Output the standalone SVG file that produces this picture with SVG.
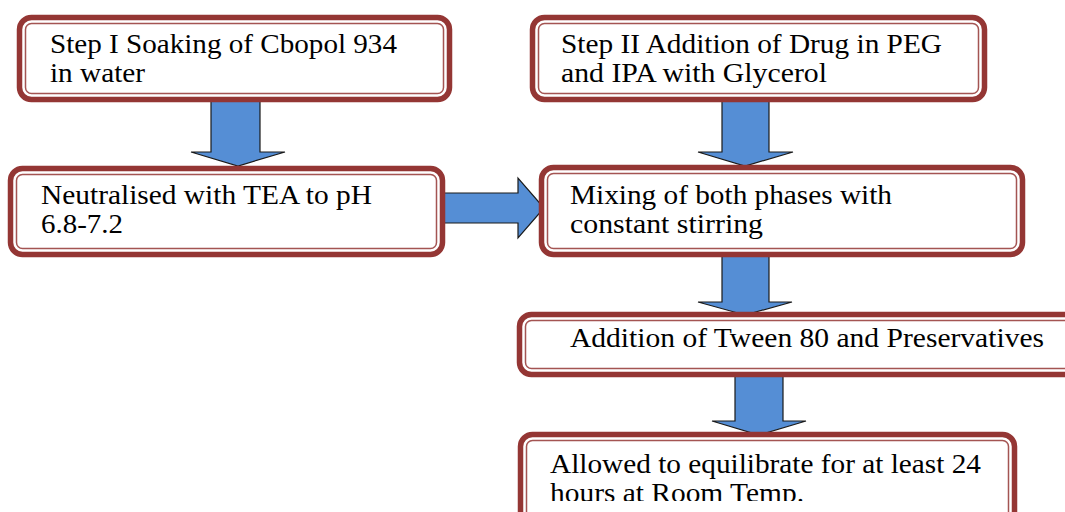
<svg xmlns="http://www.w3.org/2000/svg" width="1065" height="512" viewBox="0 0 1065 512">
<style>
.outer{fill:#fff;stroke:#943634;stroke-width:5.5}
.inner{fill:none;stroke:#943634;stroke-width:1.5;stroke-opacity:0.85}
.arrow{fill:#558ED5;stroke:#1a1a1a;stroke-width:1.2;stroke-linejoin:miter}
text{font-family:"Liberation Serif","Times New Roman",serif;font-size:28px;fill:#000}
</style>
<defs>
<clipPath id="clipBottom"><rect x="0" y="0" width="1065" height="501"/></clipPath>
</defs>
<rect width="1065" height="512" fill="#fff"/>
<g id="connectors">
<polygon class="arrow" points="211,100 260,100 260,152 285,152 238,166 191,152 211,152"/>
<polygon class="arrow" points="722,100 769,100 769,152 793,152 745,166 698,152 722,152"/>
<polygon class="arrow" points="438,193 518,193 518,178 544,208 518,238 518,223 438,223"/>
<polygon class="arrow" points="722,255 769,255 769,302 792,302 745,315 698,302 722,302"/>
<polygon class="arrow" points="735,375 783,375 783,421 806,421 759,435 712,421 735,421"/>
</g>
<g id="node1">
<rect class="outer" x="19.5" y="17.5" width="430" height="82" rx="12"/>
<rect class="inner" x="25.5" y="23.5" width="418" height="70" rx="6"/>
<text x="50" y="53" textLength="347" lengthAdjust="spacingAndGlyphs">Step I Soaking of Cbopol 934</text>
<text x="50" y="82" textLength="95" lengthAdjust="spacingAndGlyphs">in water</text>
</g>
<g id="node2">
<rect class="outer" x="10.5" y="168.5" width="432" height="86" rx="12"/>
<rect class="inner" x="16.5" y="174.5" width="420" height="74" rx="6"/>
<text x="41" y="204" textLength="331" lengthAdjust="spacingAndGlyphs">Neutralised with TEA to pH</text>
<text x="41" y="233" textLength="82" lengthAdjust="spacingAndGlyphs">6.8-7.2</text>
</g>
<g id="node3">
<rect class="outer" x="532.5" y="17.5" width="452" height="82" rx="12"/>
<rect class="inner" x="538.5" y="23.5" width="440" height="70" rx="6"/>
<text x="561" y="53" textLength="381" lengthAdjust="spacingAndGlyphs">Step II Addition of Drug in PEG</text>
<text x="561" y="82" textLength="266" lengthAdjust="spacingAndGlyphs">and IPA with Glycerol</text>
</g>
<g id="node4">
<rect class="outer" x="541.5" y="167.5" width="481" height="87" rx="12"/>
<rect class="inner" x="547.5" y="173.5" width="469" height="75" rx="6"/>
<text x="570" y="204" textLength="322" lengthAdjust="spacingAndGlyphs">Mixing of both phases with</text>
<text x="570" y="233" textLength="193" lengthAdjust="spacingAndGlyphs">constant stirring</text>
</g>
<g id="node5">
<rect class="outer" x="519.5" y="314.5" width="570" height="60" rx="12"/>
<rect class="inner" x="525.5" y="320.5" width="558" height="48" rx="6"/>
<text x="570" y="347" textLength="474" lengthAdjust="spacingAndGlyphs">Addition of Tween 80 and Preservatives</text>
</g>
<g id="node6">
<rect class="outer" x="520.5" y="434.5" width="494" height="100" rx="12"/>
<rect class="inner" x="526.5" y="440.5" width="482" height="88" rx="6"/>
<text x="550" y="473" textLength="431" lengthAdjust="spacingAndGlyphs">Allowed to equilibrate for at least 24</text>
<text x="550" y="502" textLength="254" lengthAdjust="spacingAndGlyphs" clip-path="url(#clipBottom)">hours at Room Temp.</text>
</g>
</svg>
